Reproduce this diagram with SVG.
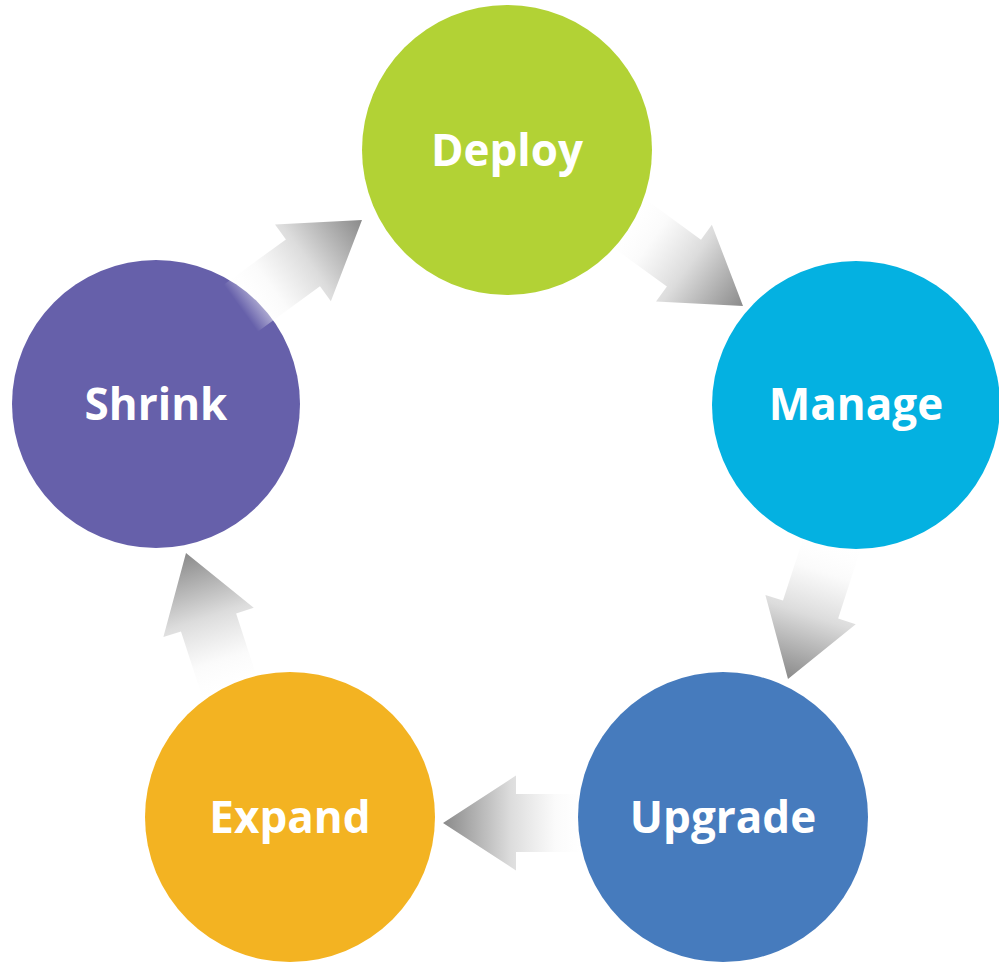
<svg xmlns="http://www.w3.org/2000/svg" width="999" height="963" viewBox="0 0 999 963">
<defs>
<style>
.lbl{font-family:"Open Sans","Liberation Sans",sans-serif;font-weight:bold;font-size:44px;fill:#ffffff;text-anchor:middle}
.arr{fill:url(#ag)}
</style>
<linearGradient id="ag" gradientUnits="userSpaceOnUse" x1="-150" y1="0" x2="0" y2="0">
<stop offset="0" stop-color="#ffffff" stop-opacity="0"/>
<stop offset="0.25" stop-color="#fafafa" stop-opacity="0.9"/>
<stop offset="0.55" stop-color="#dcdcdc"/>
<stop offset="1" stop-color="#8a8a8a"/>
</linearGradient>
<polygon id="arrow" class="arr" points="0,0 -73,-47.5 -73,-29 -150,-29 -150,29 -73,29 -73,47.5"/>
</defs>
<rect width="999" height="963" fill="#ffffff"/>
<g id="shrink">
<circle cx="156" cy="404" r="144" fill="#6660aa"/>
<text class="lbl" x="156" y="420">Shrink</text>
</g>
<g id="connectors">
<use href="#arrow" transform="translate(362,220) rotate(-36)"/>
<use href="#arrow" transform="translate(743,306) rotate(36)"/>
<use href="#arrow" transform="translate(788,679) rotate(108)"/>
<use href="#arrow" transform="translate(443,823) rotate(180)"/>
<use href="#arrow" transform="translate(186,553) rotate(-108)"/>
</g>
<g id="deploy">
<circle cx="507" cy="150" r="145" fill="#b2d235"/>
<text class="lbl" x="507" y="166">Deploy</text>
</g>
<g id="manage">
<circle cx="856" cy="405" r="144" fill="#04b1e1"/>
<text class="lbl" x="856" y="420">Manage</text>
</g>
<g id="upgrade">
<circle cx="723" cy="817" r="145" fill="#467bbd"/>
<text class="lbl" x="723" y="833">Upgrade</text>
</g>
<g id="expand">
<circle cx="290" cy="817" r="145" fill="#f3b322"/>
<text class="lbl" x="290" y="833">Expand</text>
</g>
</svg>
